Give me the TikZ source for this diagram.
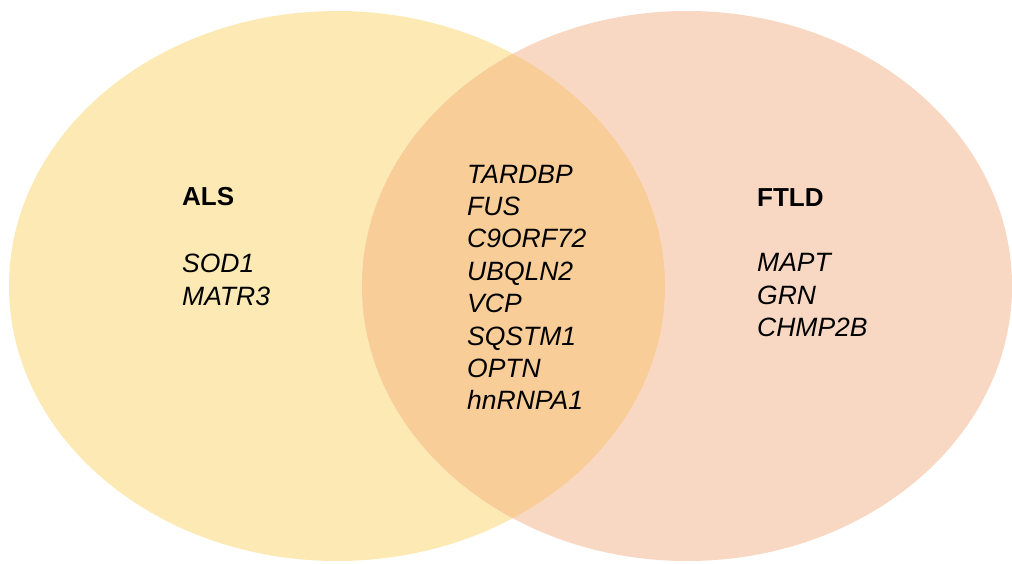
\documentclass[tikz,border=0pt]{standalone}
\usepackage{fontspec}
\setmainfont{Liberation Sans}
\definecolor{alsfill}{HTML}{FDE9B4}
\definecolor{ftldfill}{HTML}{F8D8C2}
\definecolor{bothfill}{HTML}{F8CD98}
\begin{document}
\begin{tikzpicture}[x=1pt,y=1pt,
  title/.style={inner sep=0pt, anchor=base west, font=\fontsize{26}{32.4}\selectfont\bfseries, text=black},
  genes/.style={inner sep=0pt, anchor=base west, align=left, font=\fontsize{26.5}{32.4}\selectfont\itshape, text=black}]
\useasboundingbox (0,0) rectangle (1012,563);
\coordinate (cl) at (337,277);
\coordinate (cr) at (687,277);
\fill[alsfill] (cl) ellipse [x radius=328, y radius=275];
\fill[ftldfill] (cr) ellipse [x radius=325, y radius=275];
\begin{scope}
  \clip (cl) ellipse [x radius=328, y radius=275];
  \fill[bothfill] (cr) ellipse [x radius=325, y radius=275];
\end{scope}
\node[title] (als) at (182,357) {ALS};
\node[genes] (alsg) at (182,257.6) {SOD1\\MATR3};
\node[genes] (both) at (467,153.2) {TARDBP\\FUS\\C9ORF72\\UBQLN2\\VCP\\SQSTM1\\OPTN\\hnRNPA1};
\node[title] (ftld) at (757,356) {FTLD};
\node[genes] (ftldg) at (757,226.2) {MAPT\\GRN\\CHMP2B};
\end{tikzpicture}
\end{document}
